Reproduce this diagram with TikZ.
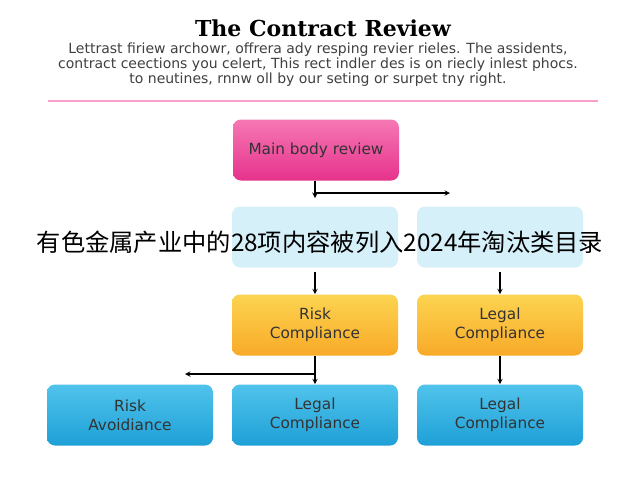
\documentclass[tikz,border=0pt]{standalone}
\usepackage{fontspec}
\setmainfont{DejaVu Sans}
\newfontfamily\cjk{Noto Sans CJK SC}
\newfontfamily\titlef{DejaVu Serif}
\definecolor{pk1}{RGB}{246,120,180}
\definecolor{pk2}{RGB}{230,50,140}
\definecolor{or1}{RGB}{252,212,80}
\definecolor{or2}{RGB}{248,170,40}
\definecolor{bl1}{RGB}{80,195,235}
\definecolor{bl2}{RGB}{30,160,215}
\definecolor{lb}{RGB}{214,240,250}
\begin{document}
\begin{tikzpicture}[x=0.75pt,y=-0.75pt,
  box/.style={rounded corners=6pt,minimum width=124.5pt,minimum height=45.75pt,align=center,font=\fontsize{11.5}{14}\selectfont,text=black!80},
  pink/.style={box,top color=pk1,bottom color=pk2,draw=none},
  lblue/.style={box,fill=lb},
  orng/.style={box,top color=or1,bottom color=or2},
  blu/.style={box,top color=bl1,bottom color=bl2},
  arr/.style={->,thick,>=stealth}]
\useasboundingbox (0,0) rectangle (640,480);
\fill[white] (0,0) rectangle (640,480);
\node[font=\titlef\bfseries\fontsize{16.5}{18}\selectfont] (t) at (323,28) {The Contract Review};
\node[align=center,font=\fontsize{10.5}{10}\selectfont,text=black!75] (p) at (318,65) {Lettrast firiew archowr, offrera ady resping revier rieles. The assidents,\\contract ceections you celert, This rect indler des is on riecly inlest phocs.\\to neutines, rnnw oll by our seting or surpet tny right.};
\draw[pk1!70,thick] (48,101) -- (598,101);
\node[pink] (m) at (316,150) {Main body review};
\node[lblue] (b1) at (315,237) {};
\node[lblue] (b2) at (500,237) {};
\node[orng] (o1) at (315,325) {Risk\\Compliance};
\node[orng] (o2) at (500,325) {Legal\\Compliance};
\node[blu] (c1) at (130,415) {Risk\\Avoidiance};
\node[blu] (c2) at (315,415) {Legal\\Compliance};
\node[blu] (c3) at (500,415) {Legal\\Compliance};
\coordinate (j1) at (315,193);
\coordinate (j1e) at (450,193);
\coordinate (j2) at (315,374);
\coordinate (j2e) at (185,374);
\draw[arr] (m.south -| j1) -- (315,198);
\draw[arr] (j1) -- (j1e);
\draw[arr] (315,272) -- (o1.north);
\draw[arr] (500,272) -- (o2.north);
\draw[arr] (o1.south) -- (c2.north);
\draw[arr] (j2) -- (j2e);
\draw[arr] (o2.south) -- (c3.north);
\node[font=\cjk\fontsize{18.2}{20}\selectfont] (cn) at (320,242) {有色金属产业中的28项内容被列入2024年淘汰类目录};
\end{tikzpicture}
\end{document}
